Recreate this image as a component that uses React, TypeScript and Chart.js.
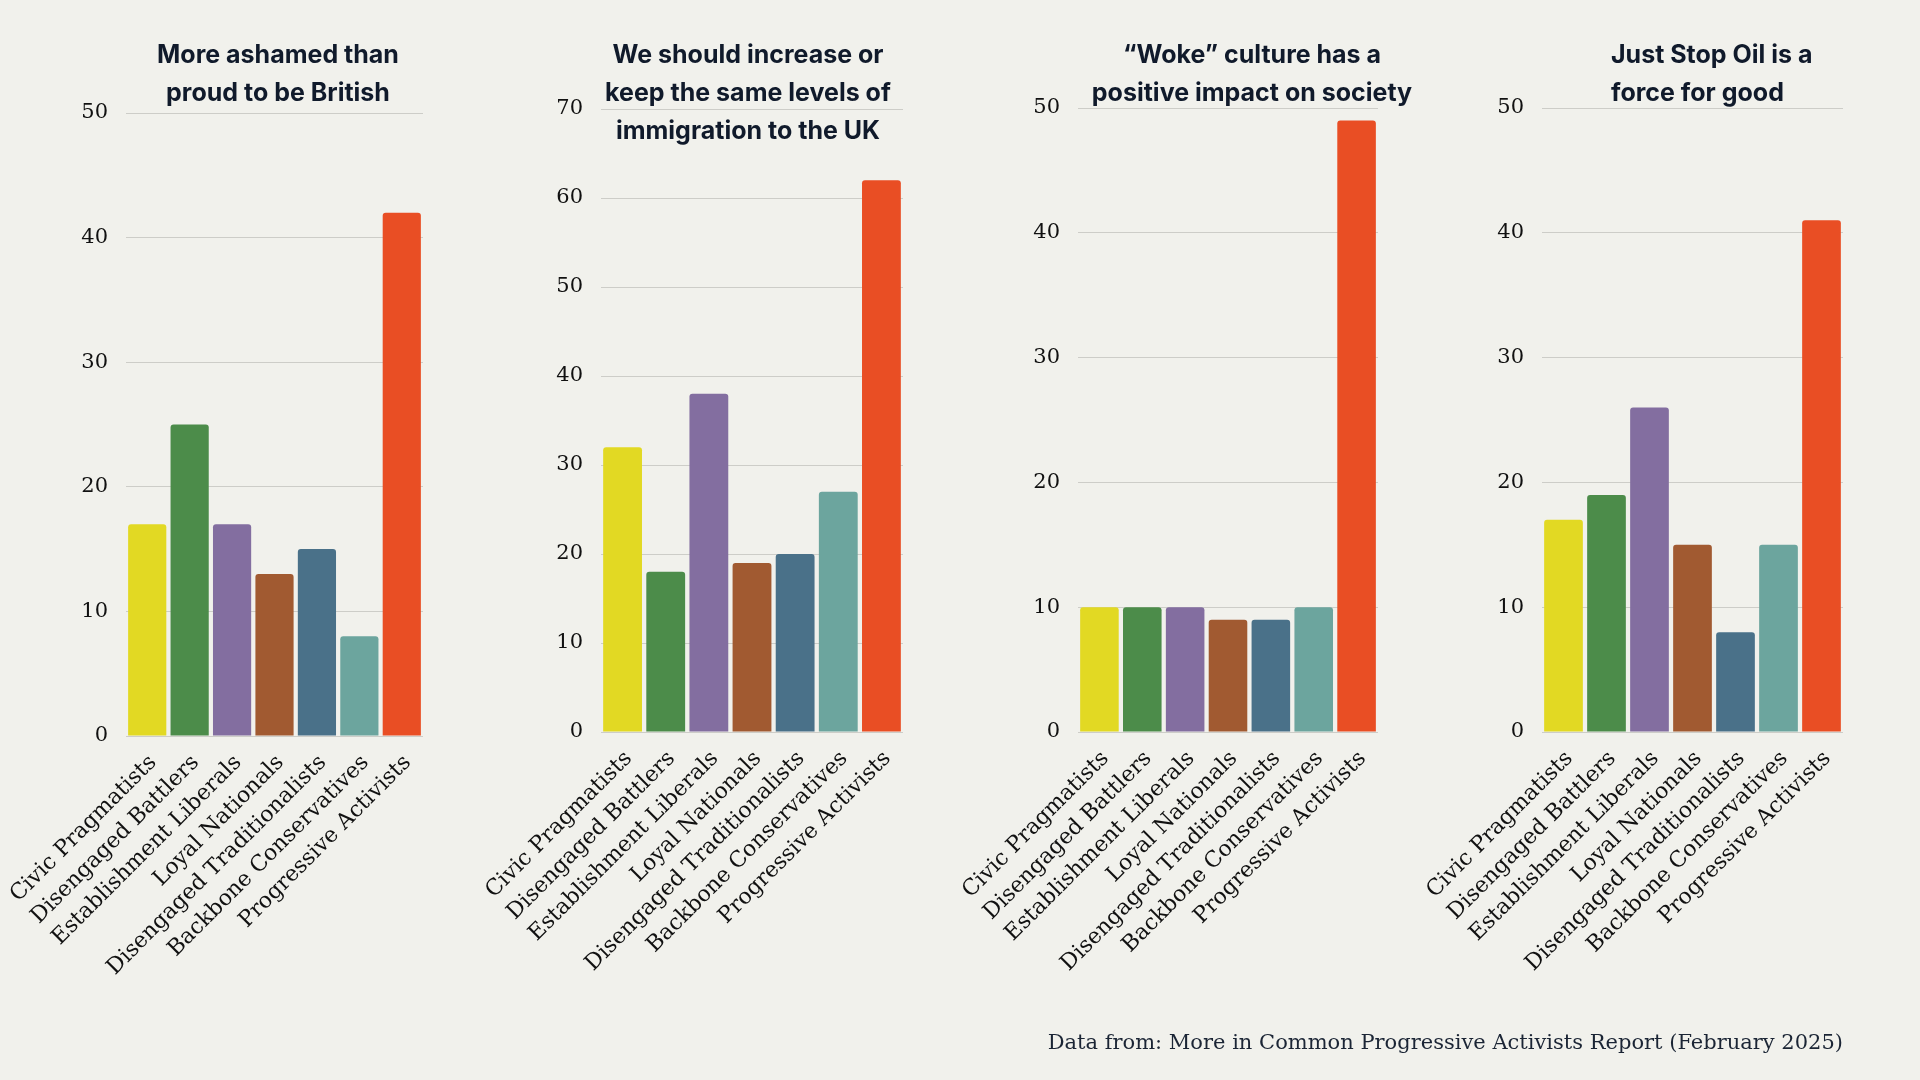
import React, { useEffect, useRef } from "react";
import { Chart, registerables } from "chart.js";

Chart.register(...registerables);

// ---------- data ----------
const categories = [
  "Civic Pragmatists",
  "Disengaged Battlers",
  "Establishment Liberals",
  "Loyal Nationals",
  "Disengaged Traditionalists",
  "Backbone Conservatives",
  "Progressive Activists",
];

const ashamedValues = [17, 25, 17, 13, 15, 8, 42];
const immigrationValues = [32, 18, 38, 19, 20, 27, 62];
const wokeValues = [10, 10, 10, 9, 9, 10, 49];
const justStopOilValues = [17, 19, 26, 15, 8, 15, 41];

const ashamedTitle = ["More ashamed than", "proud to be British"];
const immigrationTitle = ["We should increase or", "keep the same levels of", "immigration to the UK"];
const wokeTitle = ["\u201CWoke\u201D culture has a", "positive impact on society"];
const justStopOilTitle = ["Just Stop Oil is a", "force for good"];

const yMaxes = [50, 70, 50, 50];
const yStep = 10;

const sourceNote = "Data from: More in Common Progressive Activists Report (February 2025)";

// ---------- styles ----------
const barColors = ["#e2d923", "#4c8c4a", "#836ea0", "#a15a31", "#4a7189", "#6ca59e", "#e94e24"];
const BG = "#f1f1ec";
const TITLE_COLOR = "#101a2b";
const TICK_COLOR = "#111111";
const GRID_COLOR = "#cdcdc8";
const TICK_FONT = "DejaVu Serif";
const TITLE_FONT = "Inter";

type Panel = {
  values: number[];
  title: string[];
  yMax: number;
  plotLeft: number;
  plotRight: number;
  plotTop: number;
  plotBottom: number;
  titleX: number;
  titleAlign: CanvasTextAlign;
};

const panels: Panel[] = [
  { values: ashamedValues, title: ashamedTitle, yMax: yMaxes[0], plotLeft: 126, plotRight: 423, plotTop: 113, plotBottom: 736, titleX: 278, titleAlign: "center" },
  { values: immigrationValues, title: immigrationTitle, yMax: yMaxes[1], plotLeft: 601, plotRight: 903, plotTop: 109, plotBottom: 732, titleX: 748, titleAlign: "center" },
  { values: wokeValues, title: wokeTitle, yMax: yMaxes[2], plotLeft: 1078, plotRight: 1378, plotTop: 108, plotBottom: 732, titleX: 1252, titleAlign: "center" },
  { values: justStopOilValues, title: justStopOilTitle, yMax: yMaxes[3], plotLeft: 1542, plotRight: 1843, plotTop: 108, plotBottom: 732, titleX: 1611, titleAlign: "left" },
];

const Y_AXIS_W = 70;
const H = 1080;

function BarPanel({ panel }: { panel: Panel }) {
  const ref = useRef<HTMLCanvasElement | null>(null);
  const canvasLeft = Math.max(0, panel.plotLeft - 170);
  const canvasWidth = panel.plotRight + 40 - canvasLeft;

  useEffect(() => {
    const canvas = ref.current;
    if (!canvas) return;
    const titlePlugin = {
      id: "panelTitle",
      afterDraw(chart: any) {
        const ctx = chart.ctx as CanvasRenderingContext2D;
        ctx.save();
        ctx.font = `bold 25px ${TITLE_FONT}`;
        ctx.fillStyle = TITLE_COLOR;
        ctx.textAlign = panel.titleAlign;
        ctx.textBaseline = "middle";
        panel.title.forEach((line, i) => {
          ctx.fillText(line, panel.titleX - canvasLeft, 55 + i * 38);
        });
        ctx.restore();
      },
    };
    const chart = new Chart(canvas, {
      type: "bar",
      data: {
        labels: categories,
        datasets: [
          {
            data: panel.values,
            backgroundColor: barColors,
            borderRadius: 3,
            borderSkipped: "start",
            barPercentage: 0.9,
            categoryPercentage: 1,
          },
        ],
      },
      options: {
        animation: false,
        responsive: false,
        maintainAspectRatio: false,
        devicePixelRatio: 1,
        layout: {
          padding: {
            left: panel.plotLeft - canvasLeft - Y_AXIS_W,
            right: canvasLeft + canvasWidth - panel.plotRight,
            top: panel.plotTop,
            bottom: 0,
          },
        },
        plugins: {
          legend: { display: false },
          tooltip: { enabled: false },
          title: { display: false },
        },
        scales: {
          x: {
            grid: { display: false },
            border: { display: false },
            ticks: {
              autoSkip: false,
              maxRotation: 45,
              minRotation: 45,
              padding: 6,
              labelOffset: 6,
              color: TICK_COLOR,
              font: { family: TICK_FONT, size: 22 },
            },
            afterFit: (s: any) => {
              s.height = H - panel.plotBottom;
              s.paddingLeft = 0;
              s.paddingRight = 0;
            },
          },
          y: {
            min: 0,
            max: panel.yMax,
            ticks: {
              stepSize: yStep,
              padding: 18,
              color: TICK_COLOR,
              font: { family: TICK_FONT, size: 21 },
            },
            grid: { color: GRID_COLOR, lineWidth: 1, drawTicks: false },
            border: { display: false },
            afterFit: (s: any) => {
              s.width = Y_AXIS_W;
              s.paddingTop = 0;
              s.paddingBottom = 0;
            },
          },
        },
      } as any,
      plugins: [titlePlugin],
    });
    return () => chart.destroy();
  }, [panel]);

  return (
    <canvas
      ref={ref}
      width={canvasWidth}
      height={H}
      style={{ position: "absolute", left: canvasLeft, top: 0, width: canvasWidth, height: H }}
    />
  );
}

export default function App() {
  useEffect(() => {
    document.body.style.margin = "0";
  }, []);
  return (
    <div
      style={{
        position: "absolute",
        left: 0,
        top: 0,
        width: 1920,
        height: 1080,
        background: BG,
        overflow: "hidden",
      }}
    >
      {panels.map((p, i) => (
        <BarPanel key={i} panel={p} />
      ))}
      <div
        style={{
          position: "absolute",
          right: 1920 - 1843,
          top: 1027,
          fontFamily: TICK_FONT,
          fontSize: 21,
          color: "#1b2535",
          whiteSpace: "nowrap",
          lineHeight: "30px",
        }}
      >
        {sourceNote}
      </div>
    </div>
  );
}
